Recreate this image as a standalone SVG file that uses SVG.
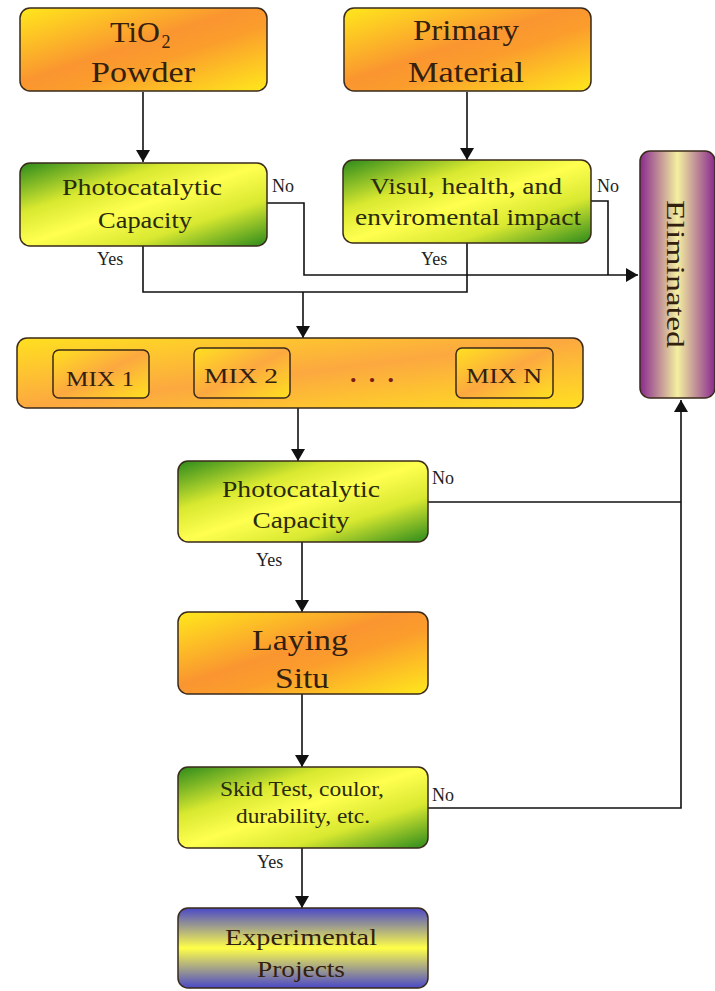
<svg xmlns="http://www.w3.org/2000/svg" width="715" height="991" viewBox="0 0 715 991">
<style>
.box{stroke:#3a2a1a;stroke-width:1.5}
.t{font-family:"Liberation Serif","Times New Roman",serif;fill:#33200f;text-anchor:middle}
.g{fill:#2a2a0c}
.big{font-size:29px}
.mid{font-size:23px}
.sm{font-size:20px}
.lbl{font-family:"Liberation Serif","Times New Roman",serif;font-size:18px;fill:#222}
.c{fill:none;stroke:#111;stroke-width:1.6}
</style>
<defs>
<linearGradient id="gOr" x1="0" y1="0" x2="1" y2="1">
<stop offset="0" stop-color="#ffe81c"/><stop offset="0.45" stop-color="#fa9530"/><stop offset="0.6" stop-color="#fb9d2c"/><stop offset="1" stop-color="#ffe81c"/>
</linearGradient>
<linearGradient id="gGr" x1="0" y1="0" x2="1" y2="1">
<stop offset="0" stop-color="#2c8a1c"/><stop offset="0.3" stop-color="#d8e830"/><stop offset="0.5" stop-color="#ffff50"/><stop offset="0.72" stop-color="#d8e830"/><stop offset="1" stop-color="#2c8a1c"/>
</linearGradient>
<linearGradient id="gPu" x1="0" y1="0" x2="1" y2="0">
<stop offset="0" stop-color="#8a2a8e"/><stop offset="0.5" stop-color="#f4f0a0"/><stop offset="1" stop-color="#8a2a8e"/>
</linearGradient>
<linearGradient id="gBl" x1="0" y1="0" x2="0" y2="1">
<stop offset="0" stop-color="#4a48c8"/><stop offset="0.5" stop-color="#ffff48"/><stop offset="1" stop-color="#4a48c8"/>
</linearGradient>
<linearGradient id="gMix" x1="0" y1="0" x2="1" y2="1">
<stop offset="0" stop-color="#ffe020"/><stop offset="0.5" stop-color="#fca840"/><stop offset="1" stop-color="#ffe020"/>
</linearGradient>
<marker id="ah" viewBox="0 0 12 14" refX="12" refY="7" markerWidth="12" markerHeight="14" markerUnits="userSpaceOnUse" orient="auto">
<path d="M0,0 L12,7 L0,14 Z" fill="#111"/>
</marker>
</defs>

<g id="connectors">
<path class="c" d="M143,92 V162" marker-end="url(#ah)"/>
<path class="c" d="M467,92 V160" marker-end="url(#ah)"/>
<path class="c" d="M267,203 H304 V275 H638" marker-end="url(#ah)"/>
<path class="c" d="M591,201 H608 V275"/>
<path class="c" d="M143,246 V292 H467 V243"/>
<path class="c" d="M303,292 V338" marker-end="url(#ah)"/>
<path class="c" d="M298,408 V461" marker-end="url(#ah)"/>
<path class="c" d="M302,542 V612" marker-end="url(#ah)"/>
<path class="c" d="M302,694 V767" marker-end="url(#ah)"/>
<path class="c" d="M302,848 V908" marker-end="url(#ah)"/>
<path class="c" d="M428,502 H681"/>
<path class="c" d="M428,808 H681 V400" marker-end="url(#ah)"/>
<text class="lbl" x="272" y="192">No</text>
<text class="lbl" x="597" y="192">No</text>
<text class="lbl" x="97" y="265">Yes</text>
<text class="lbl" x="421" y="265">Yes</text>
<text class="lbl" x="432" y="484">No</text>
<text class="lbl" x="256" y="566">Yes</text>
<text class="lbl" x="432" y="801">No</text>
<text class="lbl" x="257" y="868">Yes</text>
</g>

<g id="tio2">
<rect class="box" x="20" y="8" width="247" height="83" rx="10" fill="url(#gOr)"/>
<text class="t big" x="135" y="42" textLength="50" lengthAdjust="spacingAndGlyphs">TiO</text>
<text class="t" x="166" y="48" font-size="18">2</text>
<text class="t big" x="143" y="82" textLength="104" lengthAdjust="spacingAndGlyphs">Powder</text>
</g>

<g id="primary">
<rect class="box" x="344" y="8" width="247" height="83" rx="10" fill="url(#gOr)"/>
<text class="t big" x="466" y="40" textLength="106" lengthAdjust="spacingAndGlyphs">Primary</text>
<text class="t big" x="466" y="82" textLength="116" lengthAdjust="spacingAndGlyphs">Material</text>
</g>

<g id="photo1">
<rect class="box" x="20" y="163" width="247" height="83" rx="10" fill="url(#gGr)"/>
<text class="t g mid" x="142" y="195" textLength="160" lengthAdjust="spacingAndGlyphs">Photocatalytic</text>
<text class="t g mid" x="145" y="228" textLength="94" lengthAdjust="spacingAndGlyphs">Capacity</text>
</g>

<g id="impact">
<rect class="box" x="343" y="160" width="248" height="83" rx="10" fill="url(#gGr)"/>
<text class="t g mid" x="466" y="194" textLength="192" lengthAdjust="spacingAndGlyphs">Visul, health, and</text>
<text class="t g mid" x="468" y="225" textLength="226" lengthAdjust="spacingAndGlyphs">enviromental impact</text>
</g>

<g id="eliminated">
<rect class="box" x="640" y="151" width="75" height="247" rx="10" fill="url(#gPu)"/>
<text class="t" font-size="26" transform="translate(667,274) rotate(90)" textLength="148" lengthAdjust="spacingAndGlyphs">Eliminated</text>
</g>

<g id="mix">
<rect class="box" x="17" y="338" width="566" height="70" rx="10" fill="url(#gMix)"/>
<g id="mix1">
<rect class="box" x="53" y="350" width="96" height="48" rx="6" fill="url(#gMix)"/>
<text class="t sm" x="100" y="386" textLength="68" lengthAdjust="spacingAndGlyphs">MIX 1</text>
</g>
<g id="mix2">
<rect class="box" x="194" y="348" width="96" height="50" rx="6" fill="url(#gMix)"/>
<text class="t sm" x="241" y="383" textLength="74" lengthAdjust="spacingAndGlyphs">MIX 2</text>
</g>
<text class="t" x="372" y="382" font-size="26" font-weight="bold" style="fill:#7a1a10" textLength="44" lengthAdjust="spacing">...</text>
<g id="mixn">
<rect class="box" x="456" y="348" width="97" height="50" rx="6" fill="url(#gMix)"/>
<text class="t sm" x="504" y="383" textLength="76" lengthAdjust="spacingAndGlyphs">MIX N</text>
</g>
</g>

<g id="photo2">
<rect class="box" x="178" y="461" width="250" height="81" rx="10" fill="url(#gGr)"/>
<text class="t g mid" x="301" y="497" textLength="158" lengthAdjust="spacingAndGlyphs">Photocatalytic</text>
<text class="t g mid" x="301" y="528" textLength="97" lengthAdjust="spacingAndGlyphs">Capacity</text>
</g>

<g id="laying">
<rect class="box" x="178" y="612" width="250" height="82" rx="10" fill="url(#gOr)"/>
<text class="t big" x="300" y="650" textLength="96" lengthAdjust="spacingAndGlyphs">Laying</text>
<text class="t big" x="302" y="688" textLength="54" lengthAdjust="spacingAndGlyphs">Situ</text>
</g>

<g id="skid">
<rect class="box" x="178" y="767" width="250" height="81" rx="10" fill="url(#gGr)"/>
<text class="t g sm" x="302" y="796" textLength="164" lengthAdjust="spacingAndGlyphs">Skid Test, coulor,</text>
<text class="t g sm" x="303" y="823" textLength="134" lengthAdjust="spacingAndGlyphs">durability, etc.</text>
</g>

<g id="experimental">
<rect class="box" x="178" y="908" width="250" height="80" rx="10" fill="url(#gBl)"/>
<text class="t mid" x="301" y="945" textLength="152" lengthAdjust="spacingAndGlyphs">Experimental</text>
<text class="t mid" x="301" y="977" textLength="88" lengthAdjust="spacingAndGlyphs">Projects</text>
</g>
</svg>
